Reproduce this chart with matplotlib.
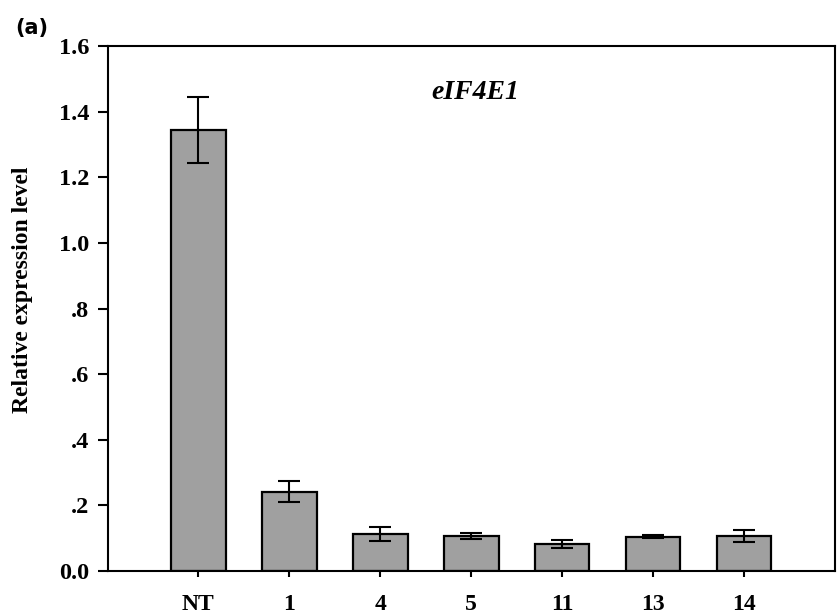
import matplotlib
matplotlib.use("Agg")
import matplotlib.pyplot as plt

lines = ["NT", "1", "4", "5", "11", "13", "14"]
expr = [1.345, 0.241, 0.113, 0.107, 0.082, 0.105, 0.108]
err = [0.10, 0.032, 0.022, 0.010, 0.012, 0.004, 0.018]
yticks = [0.0, 0.2, 0.4, 0.6, 0.8, 1.0, 1.2, 1.4, 1.6]
ytick_labels = ["0.0", ".2", ".4", ".6", ".8", "1.0", "1.2", "1.4", "1.6"]

plt.rcParams["font.family"] = ["Liberation Serif", "DejaVu Serif"]

fig = plt.figure(figsize=(8.4, 6.16), dpi=100)
ax = fig.add_axes([0.128, 0.073, 0.866, 0.852])

x = range(len(lines))
ax.bar(x, expr, width=0.6, color="#a0a0a0", edgecolor="black", linewidth=1.6, zorder=2)
ax.errorbar(x, expr, yerr=err, fmt="none", ecolor="black", elinewidth=1.5,
            capsize=8, capthick=1.5, zorder=3)

ax.set_xlim(-1, 7)
ax.set_ylim(0, 1.6)
ax.set_xticks(list(x))
ax.set_xticklabels(lines, fontsize=17, fontweight="bold")
ax.set_yticks(yticks)
ax.set_yticklabels(ytick_labels, fontsize=17.5, fontweight="bold")
ax.tick_params(direction="out", width=1.5)
ax.tick_params(axis="x", length=4.5, pad=12)
ax.tick_params(axis="y", length=7, pad=6)
for s in ax.spines.values():
    s.set_linewidth(1.5)

ax.set_ylabel("Relative expression level", fontsize=17, fontweight="bold")
ax.yaxis.set_label_coords(-0.103, 0.535)
ax.text(3.04, 1.46, "eIF4E1", fontsize=20, fontweight="bold", style="italic",
        ha="center", va="center")
fig.text(0.018, 0.955, "(a)", fontsize=15, fontweight="bold", family="DejaVu Sans",
         ha="left", va="center")

fig.savefig("out.png", dpi=100)
